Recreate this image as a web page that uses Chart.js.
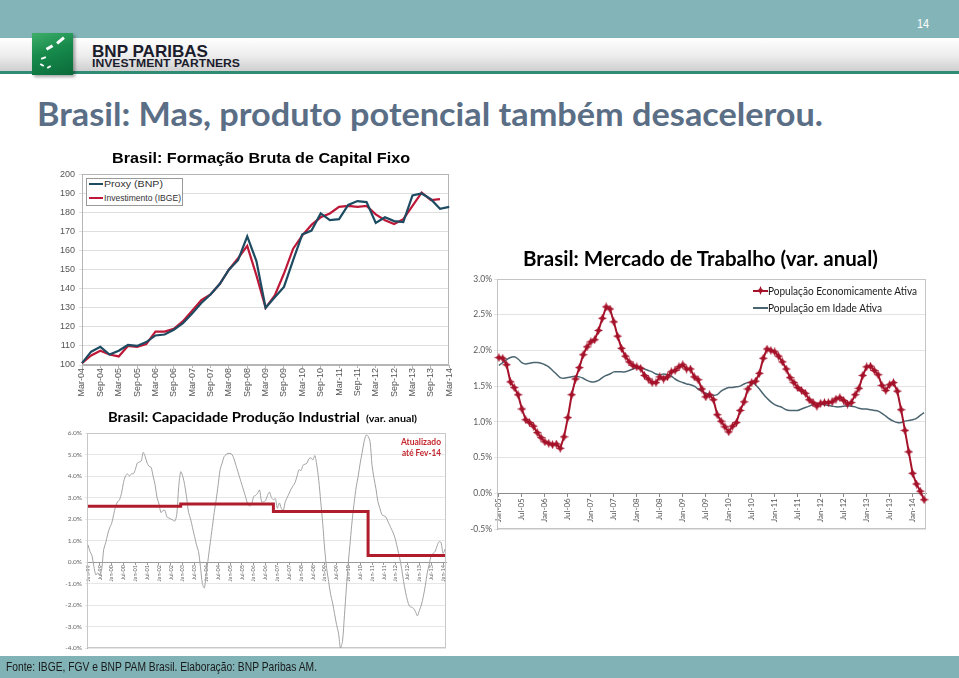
<!DOCTYPE html>
<html><head><meta charset="utf-8">
<script src="https://cdn.jsdelivr.net/npm/chart.js@4.4.1/dist/chart.umd.min.js"></script>
<style>
body{margin:0;width:959px;height:678px;position:relative;overflow:hidden;background:#fff;font-family:'Liberation Sans',Arial,sans-serif}
.t{position:absolute;white-space:nowrap;transform-origin:0 0;line-height:1;z-index:5}
canvas{position:absolute;z-index:2}
.lg{position:absolute;z-index:5}
</style></head><body>

<div style="position:absolute;left:0;top:0;width:959px;height:38px;background:#83b4b8"></div>
<div class="t" data-w="12" style="left:917px;top:17px;font-size:13px;color:#fff;font-family:'Liberation Sans Narrow','Liberation Sans';">14</div>
<div style="position:absolute;left:0;top:38px;width:959px;height:33px;background:linear-gradient(#ffffff 0%,#ececec 55%,#cfcfcf 100%)"></div>
<div style="position:absolute;left:0;top:71px;width:959px;height:3px;background:#2f8c72"></div>
<div style="position:absolute;left:32px;top:33px;width:41px;height:42px;background:linear-gradient(160deg,#3fae6a 0%,#168a4b 45%,#0b6a3a 100%);box-shadow:2px 2px 3px rgba(0,0,0,0.35);z-index:3">
  <div style="position:absolute;left:24px;top:6px;width:9px;height:3px;background:#fff;transform:rotate(-40deg)"></div>
  <div style="position:absolute;left:14px;top:13px;width:7px;height:3px;background:#fff;transform:rotate(-30deg)"></div>
  <div style="position:absolute;left:9px;top:24px;width:5px;height:2px;background:#fff;transform:rotate(-20deg)"></div>
  <div style="position:absolute;left:8px;top:31px;width:4px;height:2px;background:#fff;transform:rotate(30deg)"></div>
  <div style="position:absolute;left:15px;top:33px;width:4px;height:2px;background:#fff;transform:rotate(-30deg)"></div>
</div>
<div class="t" data-w="116" style="left:92px;top:43px;font-size:17px;font-weight:bold;color:#1b1c2c;">BNP PARIBAS</div>
<div class="t" data-w="148" style="left:92px;top:58px;font-size:11px;font-weight:bold;color:#1b1c2c;">INVESTMENT PARTNERS</div>

<div class="t" data-w="786" style="left:37px;top:97px;font-size:33px;font-family:Lato;font-weight:bold;color:#5a6e86;">Brasil: Mas, produto potencial também desacelerou.</div>

<div class="t" data-w="298" style="left:112px;top:150px;font-size:15px;font-weight:bold;color:#000;">Brasil: Formação Bruta de Capital Fixo</div>
<div class="t" data-w="355" style="left:523px;top:247px;font-size:21px;font-family:Lato;font-weight:bold;color:#000;">Brasil: Mercado de Trabalho (var. anual)</div>
<div class="t" data-w="252" style="left:108px;top:411px;font-size:13.5px;font-family:Lato;font-weight:bold;color:#000;">Brasil: Capacidade Produção Industrial</div>
<div class="t" data-w="51" style="left:366px;top:415px;font-size:8.5px;font-family:Lato;font-weight:bold;color:#000;">(var. anual)</div>

<!-- legend chart 1 -->
<div class="lg" style="left:86px;top:178px;width:95px;height:26px;border:1px solid #9a9a9a;background:#fff"></div>
<div class="lg" style="left:89px;top:183px;width:14px;height:2px;background:#1d4b62"></div>
<div class="lg" style="left:89px;top:197px;width:14px;height:2px;background:#bd1838"></div>
<div class="t" data-w="59" style="left:104px;top:180px;font-size:9px;color:#333;">Proxy (BNP)</div>
<div class="t" data-w="77" style="left:104px;top:194px;font-size:9px;color:#333;">Investimento (IBGE)</div>

<!-- legend chart 2 -->
<div class="lg" style="left:753px;top:290px;width:15px;height:2px;background:#a5122a"></div>
<div class="lg" style="left:756px;top:286px;width:9px;height:9px;background:#a5122a;clip-path:polygon(50% 0,65% 35%,100% 50%,65% 65%,50% 100%,35% 65%,0 50%,35% 35%)"></div>
<div class="lg" style="left:753px;top:307px;width:15px;height:1.5px;background:#4a6470"></div>
<div class="t" data-w="149" style="left:768px;top:285px;font-size:11px;font-family:Lato;color:#1a1a1a;">População Economicamente Ativa</div>
<div class="t" data-w="114" style="left:768px;top:302px;font-size:11px;font-family:Lato;color:#1a1a1a;">População em Idade Ativa</div>

<!-- note chart 3 -->
<div class="t" data-w="40" style="left:401px;top:437px;font-size:9px;font-family:Lato;font-weight:bold;color:#c4262e;">Atualizado</div>
<div class="t" data-w="39" style="left:402px;top:448px;font-size:9px;font-family:Lato;font-weight:bold;color:#c4262e;">até Fev-14</div>

<canvas id="c1" width="430" height="235" style="left:30px;top:165px"></canvas>
<canvas id="c2" width="495" height="267" style="left:440px;top:270px"></canvas>
<canvas id="c3" width="422" height="230" style="left:30px;top:425px"></canvas>

<div style="position:absolute;left:0;top:656px;width:959px;height:22px;background:#80b2b6;z-index:4"></div>
<div class="t" data-w="311" style="left:6px;top:660px;font-size:13px;color:#1a1a1a;">Fonte: IBGE, FGV e BNP PAM Brasil. Elaboração: BNP Paribas AM.</div>

<script>
// ---------- Chart 1: Formação Bruta de Capital Fixo (quarterly) ----------
const fbcfQuarters = ['Mar','Jun','Sep','Dec'];
const fbcfLabels = [];
for (let y = 4; y <= 14; y++) for (const q of fbcfQuarters) { if (y === 14 && q !== 'Mar') break; fbcfLabels.push(q + '-' + String(y).padStart(2,'0')); }
const proxyBNP = [101,107,109.5,105.5,107.5,110.5,110,112,115.5,116,118.5,122,127,132.5,137,142.5,150,155,167.5,154.5,130,135.5,141,155,168.5,170.5,179.5,176,176.5,184,186,185.5,174.5,177.5,175.5,175,189,190,187,182,183];
const investIBGE = [101,105,107.5,105.5,104.5,110,109.5,111,117.5,117.5,119,123,128.5,134,137,142.5,150,156,162.5,147,130,136.5,148,161,168,173.5,177.5,179.5,183,183.5,183,183.5,179,176,174,176.5,183.5,190.5,186.5,187,null];

// ---------- Chart 2: Mercado de Trabalho (monthly, Jan-05 .. Apr-14) ----------
const monthNames = ['Jan','Feb','Mar','Apr','May','Jun','Jul','Aug','Sep','Oct','Nov','Dec'];
function monthLabels(y0, y1, lastMonth){ const out=[]; for(let y=y0;y<=y1;y++){ for(let m=0;m<12;m++){ if(y===y1 && m>lastMonth) break; out.push(monthNames[m]+'-'+String(y%100).padStart(2,'0')); } } return out; }
const trabLabels = monthLabels(2005, 2014, 3);
const peaValues = [
 1.90,1.89,1.80,1.56,1.48,1.38,1.18,1.03,0.99,0.94,0.85,0.78,
 0.72,0.70,0.68,0.69,0.63,0.79,1.06,1.38,1.60,1.76,1.94,2.05,
 2.12,2.15,2.28,2.45,2.61,2.58,2.40,2.20,2.03,1.92,1.84,1.79,
 1.77,1.75,1.65,1.60,1.55,1.55,1.63,1.60,1.63,1.70,1.72,1.77,
 1.80,1.74,1.74,1.63,1.59,1.46,1.35,1.38,1.31,1.10,1.01,0.93,
 0.86,0.94,0.99,1.16,1.28,1.46,1.55,1.57,1.68,1.89,2.02,2.00,
 1.98,1.92,1.84,1.74,1.62,1.55,1.48,1.44,1.40,1.31,1.27,1.22,
 1.26,1.27,1.27,1.28,1.32,1.34,1.30,1.25,1.27,1.38,1.47,1.65,
 1.77,1.78,1.72,1.66,1.51,1.44,1.52,1.55,1.43,1.17,0.88,0.58,
 0.28,0.13,0.03,-0.09];
const piaValues = [
 1.79,1.83,1.87,1.90,1.91,1.88,1.83,1.81,1.82,1.83,1.83,1.82,
 1.80,1.77,1.72,1.67,1.62,1.61,1.62,1.63,1.64,1.63,1.61,1.58,
 1.56,1.56,1.58,1.62,1.65,1.67,1.70,1.70,1.70,1.70,1.72,1.74,
 1.76,1.76,1.74,1.72,1.70,1.67,1.66,1.67,1.66,1.64,1.60,1.57,
 1.55,1.53,1.52,1.50,1.46,1.43,1.40,1.38,1.37,1.38,1.43,1.46,
 1.48,1.48,1.49,1.50,1.53,1.55,1.56,1.52,1.46,1.39,1.33,1.28,
 1.24,1.22,1.20,1.17,1.16,1.16,1.16,1.18,1.20,1.22,1.24,1.25,
 1.25,1.24,1.23,1.22,1.21,1.21,1.22,1.22,1.22,1.21,1.19,1.18,
 1.18,1.17,1.16,1.15,1.12,1.08,1.04,1.01,0.99,0.99,1.01,1.02,
 1.03,1.05,1.09,1.13];

// ---------- Chart 3: Capacidade Produção Industrial (monthly, Jan-99 .. Feb-14) ----------
const capLabels = monthLabels(1999, 2014, 1);
const capValues = [
 0.8,0.5,0.3,-0.2,-0.6,-0.5,-0.6,-0.3,0.6,0.9,1.3,1.6,
 1.8,2.2,2.6,2.8,2.9,3.2,3.7,4.0,4.1,4.0,4.1,4.1,
 4.3,4.6,4.65,4.7,5.1,4.9,4.6,4.45,4.4,4.0,3.6,3.0,
 2.7,2.3,2.4,2.4,2.1,2.05,2.0,1.95,1.9,2.2,3.5,4.2,
 4.0,3.6,3.0,2.3,2.0,1.6,1.2,0.8,0.5,-0.2,-1.0,-1.2,
 -0.5,0.2,0.9,1.6,2.3,2.9,3.6,4.3,4.6,4.9,5.0,5.05,
 5.05,5.0,4.8,4.5,4.2,3.9,3.6,3.3,3.0,2.7,2.6,2.7,
 3.05,3.1,3.2,3.35,2.8,2.8,2.85,3.1,3.25,3.0,2.9,2.95,
 2.5,2.75,2.5,2.4,2.8,3.0,3.2,3.4,3.55,3.7,4.0,4.3,
 4.25,4.5,4.55,4.6,4.8,4.85,4.75,4.95,4.5,3.8,2.8,1.8,
 0.6,-0.3,-0.9,-1.5,-1.9,-2.4,-2.9,-3.3,-4.0,-3.7,-2.5,-1.2,
 0.0,1.0,2.0,2.8,3.5,4.0,4.6,5.1,5.6,5.9,5.85,5.6,
 4.5,3.9,3.4,2.8,2.5,2.2,2.15,2.1,1.9,1.7,1.5,1.3,
 1.0,0.6,0.2,-0.3,-0.9,-1.4,-1.8,-2.05,-2.1,-2.15,-2.3,-2.5,
 -2.25,-2.0,-1.6,-1.1,-0.5,-0.1,0.3,0.4,0.5,0.75,0.95,0.9,
 0.4,0.6];
// potential growth: step changes (start month, value)
const potStart = ['Jan-99','Dec-02','Nov-06','Nov-10'];
const potValue = [2.6, 2.7, 2.35, 0.3];
const potValues = capLabels.map((lab, i) => { let v = null; potStart.forEach((s, k) => { if (i >= capLabels.indexOf(s)) v = potValue[k]; }); return v; });

// ---------- helpers ----------
const framePlugin = { id:'frame', beforeDatasetsDraw(chart, args, opts){ const a = chart.chartArea, ctx = chart.ctx; ctx.save(); ctx.strokeStyle = opts.color || '#999'; ctx.lineWidth = 1; ctx.strokeRect(Math.round(a.left)+0.5, Math.round(a.top)+0.5, Math.round(a.right)-Math.round(a.left)-1, Math.round(a.bottom)-Math.round(a.top)-1); ctx.restore(); } };
const star = document.createElement('canvas'); star.width = 9; star.height = 9;
(function(){ const c = star.getContext('2d'); c.fillStyle = '#a5122a'; c.beginPath(); const cx=4.5, cy=4.5, R=4.5, r=2.0; for(let k=0;k<8;k++){ const ang = k*Math.PI/4 - Math.PI/2; const rr = k%2===0?R:r; const x = cx+rr*Math.cos(ang), y = cy+rr*Math.sin(ang); k?c.lineTo(x,y):c.moveTo(x,y);} c.closePath(); c.fill(); })();

Chart.defaults.animation = false;
Chart.defaults.responsive = false;
Chart.defaults.devicePixelRatio = 1;
Chart.defaults.plugins.legend.display = false;
Chart.defaults.plugins.tooltip.enabled = false;

// Chart 1
new Chart(document.getElementById('c1'), {
  type:'line',
  data:{ labels: fbcfLabels, datasets:[
    { label:'Proxy (BNP)', data: proxyBNP, borderColor:'#1d4b62', borderWidth:2.2, pointRadius:0, tension:0 },
    { label:'Investimento (IBGE)', data: investIBGE, borderColor:'#bd1838', borderWidth:2.2, pointRadius:0, tension:0 }
  ]},
  options:{
    layout:{ padding:{ top:8, right:7, bottom:0, left:0 } },
    plugins:{ frame:{ color:'#b5b5b5' } },
    scales:{
      x:{ offset:false, afterFit(s){ s.height = 35; },
          grid:{ display:true, drawOnChartArea:false, tickLength:3, color:'#b5b5b5' },
          border:{ color:'#b5b5b5' },
          ticks:{ autoSkip:false, minRotation:90, maxRotation:90, padding:0, color:'#555', font:{ family:'Liberation Sans', size:9 },
                  callback(v, i){ return i % 2 === 0 ? fbcfLabels[i] : null; } } },
      y:{ min:100, max:200, afterFit(s){ s.width = 52; },
          grid:{ color:'#dedede', tickLength:3 }, border:{ color:'#b5b5b5' },
          ticks:{ stepSize:10, padding:4, color:'#555', font:{ family:'Liberation Sans', size:9 } } }
    }
  },
  plugins:[framePlugin]
});

// Chart 2
new Chart(document.getElementById('c2'), {
  type:'line',
  data:{ labels: trabLabels, datasets:[
    { label:'População Economicamente Ativa', data: peaValues, borderColor:'#a5122a', borderWidth:2, pointStyle: star, pointRadius:4.5, tension:0 },
    { label:'População em Idade Ativa', data: piaValues, borderColor:'#4a6470', borderWidth:1.5, pointRadius:0, tension:0.3 }
  ]},
  options:{
    layout:{ padding:{ top:9, right:9, bottom:8, left:0 } },
    plugins:{ frame:{ color:'#c4c4c4' } },
    scales:{
      x:{ offset:true, position:{ y:0 },
          grid:{ display:true, drawOnChartArea:false, offset:false, tickLength:3, color:'#8c8c8c' },
          border:{ color:'#8c8c8c' },
          ticks:{ autoSkip:false, minRotation:90, maxRotation:90, padding:2, color:'#595959', font:{ family:'Lato', size:8 },
                  callback(v, i){ return i % 6 === 0 ? trabLabels[i] : null; } } },
      y:{ min:-0.5, max:3.0, afterFit(s){ s.width = 57; },
          grid:{ color:'#e3e3e3', tickLength:3 }, border:{ color:'#b0b0b0' },
          ticks:{ stepSize:0.5, padding:2, color:'#595959', font:{ family:'Lato', size:8.5 }, callback(v){ return v.toFixed(1) + '%'; } } }
    }
  },
  plugins:[framePlugin]
});

// Chart 3
new Chart(document.getElementById('c3'), {
  type:'line',
  data:{ labels: capLabels, datasets:[
    { label:'Potencial', data: potValues, borderColor:'#b01c2c', borderWidth:3, pointRadius:0, stepped:true },
    { label:'Capacidade', data: capValues, borderColor:'#a3a3a3', borderWidth:1, pointRadius:0, tension:0.3 }
  ]},
  options:{
    layout:{ padding:{ top:8, right:6, bottom:6, left:0 } },
    plugins:{ frame:{ color:'#c8c8c8' } },
    scales:{
      x:{ offset:true, position:{ y:0 },
          grid:{ display:true, drawOnChartArea:false, offset:false, tickLength:2, color:'#9a9a9a' },
          border:{ color:'#9a9a9a' },
          ticks:{ autoSkip:false, minRotation:90, maxRotation:90, padding:1, color:'#666', font:{ family:'Lato', size:5.5 },
                  callback(v, i){ return i % 6 === 0 ? capLabels[i] : null; } } },
      y:{ min:-4, max:6, afterFit(s){ s.width = 57; },
          grid:{ color:'#e6e6e6', tickLength:2 }, border:{ color:'#b5b5b5' },
          ticks:{ stepSize:1, padding:3, color:'#666', font:{ family:'Lato', size:6.5 }, callback(v){ return v.toFixed(1) + '%'; } } }
    }
  },
  plugins:[framePlugin]
});

// fit text widths
function fitAll(){ document.querySelectorAll('.t[data-w]').forEach(el => { el.style.transform = 'none'; const cur = el.getBoundingClientRect().width; const w = +el.dataset.w; if (cur > 0) el.style.transform = 'scaleX(' + (w / cur) + ')'; }); }
fitAll();
if (document.fonts && document.fonts.ready) document.fonts.ready.then(fitAll);
</script>
</body></html>
